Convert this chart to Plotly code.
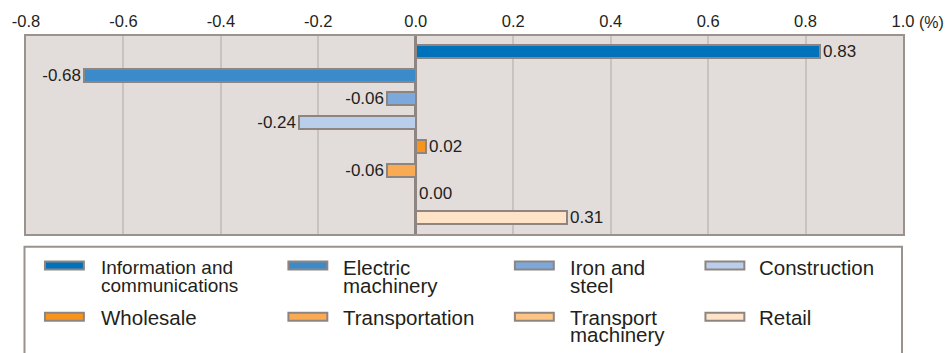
import plotly.graph_objects as go

# Contribution by industry (percentage points)
industries = [
    "Information and communications",
    "Electric machinery",
    "Iron and steel",
    "Construction",
    "Wholesale",
    "Transportation",
    "Transport machinery",
    "Retail",
]
values = [0.83, -0.68, -0.06, -0.24, 0.02, -0.06, 0.00, 0.31]
colors = ["#0072BC", "#3B8AC9", "#7CA8DC", "#B8CEEA",
          "#F7941D", "#FAAA52", "#FDC483", "#FEE3C8"]
# Legend labels, split into lines as printed
legend_lines = [
    ["Information and", "communications"],
    ["Electric", "machinery"],
    ["Iron and", "steel"],
    ["Construction"],
    ["Wholesale"],
    ["Transportation"],
    ["Transport", "machinery"],
    ["Retail"],
]
x_ticks = [-0.8, -0.6, -0.4, -0.2, 0.0, 0.2, 0.4, 0.6, 0.8, 1.0]

W, H = 946, 353
L, R, T, B = 24, 903, 33, 234  # plot area in pixels

OUTLINE = "#8E8581"
TEXT = "#231F20"
FONT = "Liberation Sans, Arial, Helvetica, sans-serif"


def px(x):
    return (x - L) / (R - L)


def py(y):
    return (B - y) / (B - T)


fig = go.Figure()
fig.add_trace(go.Bar(
    x=values,
    y=list(range(len(industries))),
    orientation="h",
    width=0.54,
    marker=dict(color=colors, line=dict(color=OUTLINE, width=2)),
    text=[f"{v:.2f}" for v in values],
    textposition="outside",
    constraintext="none",
    textfont=dict(size=17, color=TEXT, family=FONT),
    cliponaxis=False,
    hovertext=industries,
    showlegend=False,
))

shapes = []
annotations = []

# Legend frame
shapes.append(dict(type="rect", xref="paper", yref="paper",
                   x0=px(22.5), x1=px(902), y0=py(362), y1=py(247),
                   line=dict(color="#9B928E", width=2), fillcolor="white",
                   layer="below"))

swatch_x = [43, 287, 514, 705]
text_x = [97, 340, 567, 757]
swatch_y = [(262, 270), (314, 322)]
line1_y = [268.5, 318.5]
line_pitch = 17.7

for i, (lines, col) in enumerate(zip(legend_lines, colors)):
    r, c = divmod(i, 4)
    size = 19 if i == 0 else 20.5  # the long first label is set a little smaller
    shapes.append(dict(type="rect", xref="paper", yref="paper",
                       x0=px(swatch_x[c]), x1=px(swatch_x[c] + 39),
                       y0=py(swatch_y[r][1]), y1=py(swatch_y[r][0]),
                       line=dict(color=OUTLINE, width=2), fillcolor=col))
    for k, txt in enumerate(lines):
        annotations.append(dict(
            xref="paper", yref="paper", x=px(text_x[c]),
            y=py(line1_y[r] + k * line_pitch),
            xanchor="left", yanchor="middle", showarrow=False,
            text=txt, font=dict(size=size, color=TEXT, family=FONT)))

# Unit label beside the last tick
annotations.append(dict(xref="paper", yref="paper", x=px(917), y=py(19),
                        xanchor="left", yanchor="middle", showarrow=False,
                        text="(%)", font=dict(size=16, color=TEXT, family=FONT)))

fig.update_layout(
    width=W, height=H,
    margin=dict(l=L, r=W - R, t=T, b=H - B),
    paper_bgcolor="white",
    plot_bgcolor="#E2DDDB",
    bargap=0,
    shapes=shapes,
    annotations=annotations,
    xaxis=dict(
        side="top", range=[-0.8, 1.0], tickvals=x_ticks,
        ticktext=[f"{t:.1f}" for t in x_ticks],
        showgrid=True, gridcolor="#C9C3C0", gridwidth=2,
        zeroline=True, zerolinecolor=OUTLINE, zerolinewidth=2.5,
        showline=True, linecolor="#9B928E", linewidth=2, mirror=True,
        ticks="", tickfont=dict(size=16.5, color=TEXT, family=FONT),
        fixedrange=True,
    ),
    yaxis=dict(
        range=[7.6875, -0.646], showticklabels=False, showgrid=False,
        zeroline=False, showline=True, linecolor="#9B928E", linewidth=2,
        mirror=True, ticks="", fixedrange=True,
    ),
)

fig.write_html("out.html")
